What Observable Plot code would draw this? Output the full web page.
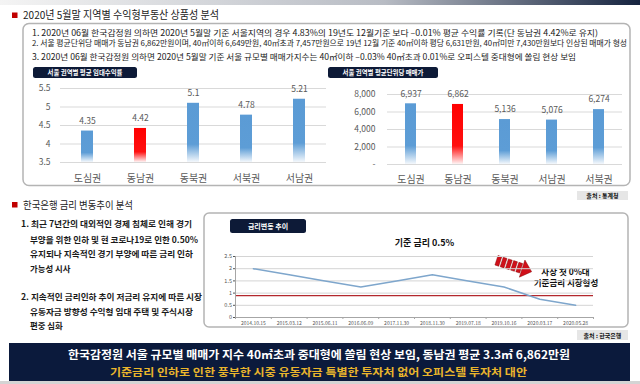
<!DOCTYPE html>
<html><head><meta charset="utf-8">
<script src="https://cdn.jsdelivr.net/npm/d3@7"></script>
<script src="https://cdn.jsdelivr.net/npm/@observablehq/plot@0.6"></script>
<style>
html,body{margin:0;padding:0;background:#fff;}
#root{position:relative;width:640px;height:384px;overflow:hidden;font-family:"Noto Sans CJK KR","Noto Sans",sans-serif;}
#root svg.bg{position:absolute;left:0;top:0;}
.chart{position:absolute;}
</style></head><body><div id="root"></div>
<script>
// ---- data ----
const regions1 = ["도심권","동남권","동북권","서북권","서남권"];
const yields = [4.35,4.42,5.1,4.78,5.21];
const yieldTicks = [3.5,4,4.5,5,5.5];
const regions2 = ["도심권","동남권","동북권","서남권","서북권"];
const prices = [6937,6862,5136,5076,6274];
const priceTicks = [0,2000,4000,6000,8000];
const highlight = "동남권";
const rateDates = ["2014.10.15","2015.03.12","2015.06.11","2016.06.09","2017.11.30","2018.11.30","2019.07.18","2019.10.16","2020.03.17","2020.05.28"];
const rates = [2,1.75,1.5,1.25,1.5,1.75,1.5,1.25,0.75,0.5];
const rateTicks = [0,0.5,1,1.5,2,2.5];
const baseRef = 0.9;

const font = '"Noto Sans CJK KR","Noto Sans",sans-serif';
const navy = "#0d1a37";
const root = document.getElementById("root");

const bg = `<svg class="bg" width="640" height="384" xmlns="http://www.w3.org/2000/svg" font-family='${font}'>
<defs>
 <linearGradient id="topbar" x1="0" x2="1" y1="0" y2="0"><stop offset="0" stop-color="#f4f4f4"/><stop offset="0.6" stop-color="#b8bcc4"/><stop offset="1" stop-color="#15233f"/></linearGradient>
 <linearGradient id="gBlue" x1="0" x2="0" y1="0" y2="1"><stop offset="0" stop-color="#5b9bd5"/><stop offset="0.7" stop-color="#5d9dd6"/><stop offset="1" stop-color="#f4f8fc"/></linearGradient>
 <linearGradient id="gRed" x1="0" x2="0" y1="0" y2="1"><stop offset="0" stop-color="#ff0000"/><stop offset="0.7" stop-color="#ff1010"/><stop offset="1" stop-color="#fff4f4"/></linearGradient>
</defs>
<rect x="0" y="0" width="640" height="5" fill="url(#topbar)"/>
<rect x="12" y="12.5" width="5.5" height="5.5" fill="#c00000"/>
<text x="23" y="19" font-size="11" fill="#222" textLength="196" lengthAdjust="spacingAndGlyphs">2020년 5월말 지역별 수익형부동산 상품성 분석</text>
<rect x="23" y="23.5" width="607" height="162" rx="6" fill="#fff" stroke="#b4b4b4" stroke-width="1.5"/>
<text x="32" y="36.2" font-size="8.3" fill="#1a1a1a" textLength="566" lengthAdjust="spacingAndGlyphs">1. 2020년 06월 한국감정원 의하면 2020년 5월말 기준 서울지역의 경우 4.83%의 19년도 12월기준 보다 –0.01% 평균 수익률 기록(단 동남권 4.42%로 유지)</text>
<text x="32" y="46.3" font-size="7.6" fill="#1a1a1a" textLength="595" lengthAdjust="spacingAndGlyphs">2. 서울 평균단위당 매매가 동남권 6,862만원이며, 40㎡이하 6,649만원, 40㎡초과 7,457만원으로 19년 12월 기준 40㎡이하 평당 6,631만원, 40㎡미만 7,430만원보다 인상된 매매가 형성</text>
<text x="32" y="59.8" font-size="8.3" fill="#1a1a1a" textLength="544" lengthAdjust="spacingAndGlyphs">3. 2020년 06월 한국감정원 의하면 2020년 5월말 기준 서울 규모별 매매가지수는 40㎡이하 –0.03% 40㎡초과 0.01%로 오피스텔 중대형에 쏠림 현상 보임</text>
<rect x="33" y="67" width="104" height="11" rx="2.5" fill="${navy}"/>
<text x="85" y="74.8" font-size="6.4" font-weight="bold" fill="#fff" text-anchor="middle">서울 권역별 평균 임대수익률</text>
<rect x="328" y="67" width="110" height="11" rx="2.5" fill="${navy}"/>
<text x="383" y="74.8" font-size="6.4" font-weight="bold" fill="#fff" text-anchor="middle">서울 권역별 평균단위당 매매가</text>
<rect x="577" y="191" width="51" height="9" fill="#e6e6e6"/>
<text x="602.5" y="198" font-size="6" font-weight="bold" fill="#111" text-anchor="middle">출처 : 통계청</text>
<rect x="12" y="202" width="5.5" height="5.5" fill="#c00000"/>
<text x="23" y="208.8" font-size="10.5" fill="#222" textLength="110" lengthAdjust="spacingAndGlyphs">한국은행 금리 변동추이 분석</text>
<g font-size="8.4" font-weight="bold" fill="#1a1a1a">
<text x="21" y="227.3" textLength="171" lengthAdjust="spacingAndGlyphs">1. 최근 7년간의 대외적인 경제 침체로 인해 경기</text>
<text x="30" y="243.2" textLength="168" lengthAdjust="spacingAndGlyphs">부양을 위한 인하 및 현 코로나19로 인한 0.50%</text>
<text x="30" y="257.3" textLength="163" lengthAdjust="spacingAndGlyphs">유지되나 지속적인 경기 부양에 따른 금리 인하</text>
<text x="30" y="272.3">가능성 시사</text>
<text x="21" y="300.3" textLength="181" lengthAdjust="spacingAndGlyphs">2. 지속적인 금리인하 추이 저금리 유지에 따른 시장</text>
<text x="30" y="315.3" textLength="163" lengthAdjust="spacingAndGlyphs">유동자금 방향성 수익형 임대 주택 및 주식시장</text>
<text x="30" y="329.3">편중 심화</text>
</g>
<rect x="204" y="213" width="424" height="114" rx="5" fill="#fff" stroke="#b4b4b4" stroke-width="1.5"/>
<rect x="230" y="219" width="76" height="14" rx="2.5" fill="${navy}"/>
<text x="268" y="228.6" font-size="7" font-weight="bold" fill="#fff" text-anchor="middle">금리변동 추이</text>
<text x="424.5" y="246.2" font-size="9" font-weight="bold" fill="#111" text-anchor="middle">기준 금리 0.5%</text>
<g transform="translate(498,255.5) rotate(18)" fill="#d0101a" stroke="#800000" stroke-width="0.4">
 <rect x="0" y="0" width="4" height="10"/><rect x="5.5" y="0" width="4" height="10"/><rect x="11" y="0" width="4" height="10"/><rect x="16.5" y="0" width="4" height="10"/><rect x="22" y="0" width="4" height="10"/>
 <polygon points="27,-4 27,14 37,5"/>
</g>
<text x="565.5" y="275" font-size="8.5" font-weight="bold" fill="#111" text-anchor="middle">사상 첫 0%대</text>
<text x="566" y="286.3" font-size="8.5" font-weight="bold" fill="#111" text-anchor="middle">기준금리 시장형성</text>
<rect x="577" y="330" width="51" height="10" fill="#e6e6e6"/>
<text x="602.5" y="337.6" font-size="6" font-weight="bold" fill="#111" text-anchor="middle">출처 : 한국은행</text>
<rect x="9" y="343" width="621" height="38" fill="#0b1a3c"/>
<text x="319" y="359.3" font-size="11" font-weight="bold" fill="#fff" text-anchor="middle" textLength="502" lengthAdjust="spacingAndGlyphs">한국감정원 서울 규모별 매매가 지수 40㎡초과 중대형에 쏠림 현상 보임, 동남권 평균 3.3㎡ 6,862만원</text>
<text x="318.5" y="376" font-size="10.5" font-weight="bold" fill="#e9b52c" text-anchor="middle" textLength="417" lengthAdjust="spacingAndGlyphs">기준금리 인하로 인한 풍부한 시중 유동자금 특별한 투자처 없어 오피스텔 투자처 대안</text>
<rect x="0" y="381" width="640" height="3" fill="#d4d4d4"/>
</svg>`;
root.insertAdjacentHTML("beforeend", bg);

function place(el, left, top) {
  const d = document.createElement("div");
  d.className = "chart";
  d.style.left = left + "px";
  d.style.top = top + "px";
  d.appendChild(el);
  root.appendChild(d);
}
const style = {fontFamily: font, background: "transparent", overflow: "visible"};

// ---- chart 1: yields ----
const yieldData = regions1.map((r, i) => ({region: r, value: yields[i]}));
place(Plot.plot({
  width: 310, height: 106, marginTop: 8, marginBottom: 24, marginLeft: 38, marginRight: 6,
  style,
  x: {domain: regions1, paddingInner: 0.775, paddingOuter: 0.3875},
  y: {domain: [yieldTicks[0], yieldTicks[yieldTicks.length - 1]]},
  marks: [
    Plot.gridY({ticks: yieldTicks, stroke: "#d9d9d9", strokeOpacity: 1}),
    Plot.axisY({ticks: yieldTicks, tickSize: 0, tickPadding: 10, fontSize: 8.5, color: "#595959", label: null, tickFormat: d => String(d)}),
    Plot.axisX({tickSize: 0, tickPadding: 12, fontSize: 10, color: "#595959", label: null}),
    Plot.barY(yieldData.filter(d => d.region !== highlight), {x: "region", y1: yieldTicks[0], y2: "value", fill: "url(#gBlue)"}),
    Plot.barY(yieldData.filter(d => d.region === highlight), {x: "region", y1: yieldTicks[0], y2: "value", fill: "url(#gRed)"}),
    Plot.text(yieldData, {x: "region", y: "value", text: d => String(d.value), dy: -10, fontSize: 8.5, fill: "#595959"})
  ]
}), 22, 80);

// ---- chart 2: prices ----
const priceData = regions2.map((r, i) => ({region: r, value: prices[i]}));
place(Plot.plot({
  width: 300, height: 106, marginTop: 14, marginBottom: 22, marginLeft: 57, marginRight: 8,
  style,
  x: {domain: regions2, paddingInner: 0.77, paddingOuter: 0.385},
  y: {domain: [priceTicks[0], priceTicks[priceTicks.length - 1]]},
  marks: [
    Plot.gridY({ticks: priceTicks, stroke: "#d9d9d9", strokeOpacity: 1}),
    Plot.axisY({ticks: priceTicks, tickSize: 0, tickPadding: 12, fontSize: 8.5, color: "#595959", label: null, tickFormat: d => d === 0 ? "-" : d3.format(",")(d)}),
    Plot.axisX({tickSize: 0, tickPadding: 11, fontSize: 10, color: "#595959", label: null}),
    Plot.barY(priceData.filter(d => d.region !== highlight), {x: "region", y1: 0, y2: "value", fill: "url(#gBlue)"}),
    Plot.barY(priceData.filter(d => d.region === highlight), {x: "region", y1: 0, y2: "value", fill: "url(#gRed)"}),
    Plot.text(priceData, {x: "region", y: "value", text: d => d3.format(",")(d.value), dy: -10, fontSize: 8.5, fill: "#595959"})
  ]
}), 330, 80);

// ---- chart 3: base rate ----
const rateData = rateDates.map((d, i) => ({i, date: d, rate: rates[i]}));
const xDom = [-0.5, rateDates.length - 0.5];
place(Plot.plot({
  width: 424, height: 85, marginTop: 11, marginBottom: 13, marginLeft: 31, marginRight: 35,
  style,
  x: {domain: xDom},
  y: {domain: [rateTicks[0], rateTicks[rateTicks.length - 1]]},
  marks: [
    Plot.gridY({ticks: rateTicks, stroke: "#d4d4d4", strokeOpacity: 1}),
    Plot.ruleY([baseRef], {stroke: "#b3282d", strokeWidth: 1.3}),
    Plot.ruleX([xDom[0]], {stroke: "#a6a6a6"}),
    Plot.ruleY([rateTicks[0]], {stroke: "#a6a6a6"}),
    Plot.axisY({ticks: rateTicks, tickSize: 2, tickPadding: 1.5, fontSize: 5.5, color: "#555", label: null, tickFormat: d => String(d)}),
    Plot.axisX({ticks: d3.range(rateDates.length + 1).map(k => k - 0.5), tickSize: 2, tickFormat: () => "", label: null, color: "#a6a6a6"}),
    Plot.axisX({ticks: d3.range(rateDates.length), tickSize: 0, tickPadding: 3.5, tickFormat: k => rateDates[k], fontSize: 5, color: "#555", label: null}),
    Plot.line(rateData, {x: "i", y: "rate", stroke: "#7ea6cc", strokeWidth: 1.5})
  ]
}), 204, 245);
</script></body></html>
